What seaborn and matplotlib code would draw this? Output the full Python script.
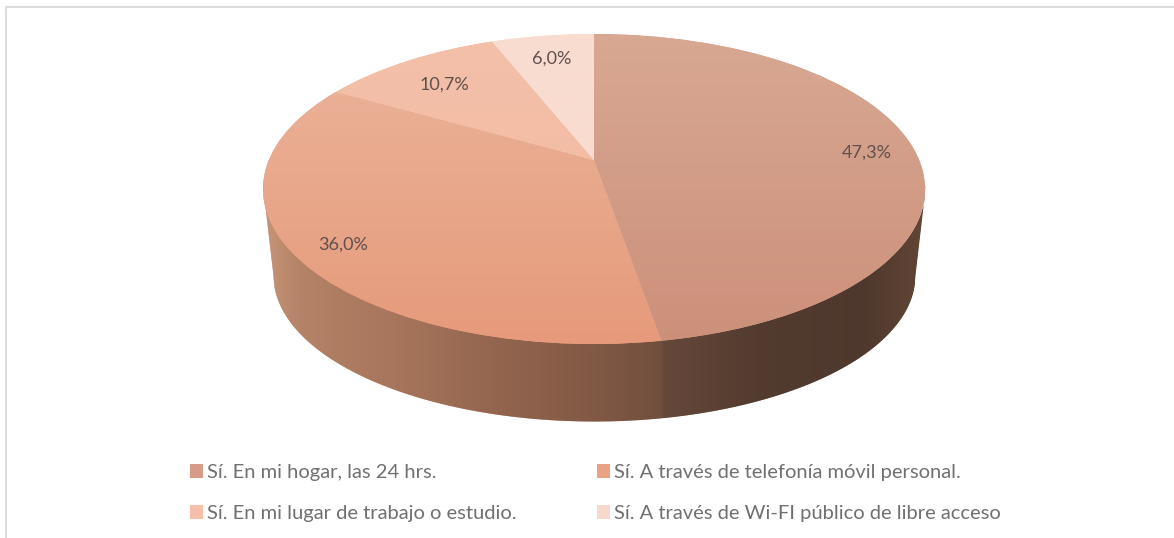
import numpy as np
import seaborn as sns
import matplotlib
matplotlib.use('Agg')
import matplotlib.pyplot as plt
from matplotlib.colors import LinearSegmentedColormap
from matplotlib.transforms import Transform

categories = ['Sí. En mi hogar, las 24 hrs.',
              'Sí. A través de telefonía móvil personal.',
              'Sí. En mi lugar de trabajo o estudio.',
              'Sí. A través de Wi-FI público de libre acceso']
values = [47.3, 36.0, 10.7, 6.0]
value_labels = ['47,3%', '36,0%', '10,7%', '6,0%']

top_colors = ['#d8a893', '#ebb59b', '#f4c0a9', '#f9dcd0']
bottom_colors = ['#cc907a', '#e69a7b', '#f2b8a0', '#f9dcd0']
legend_colors = ['#d79c87', '#e9a284', '#f6bfa9', '#f8d8cc']

# pie geometry in image pixels
cx, cy, rx, ry = 594, 189, 331, 155
depth_cy, depth_rx, depth_ry = 275, 321, 146
tilt = 0.187


# Perspective: keeps the unit circle on itself and moves its centre up
class TiltedPie(Transform):
    input_dims = 2
    output_dims = 2

    def transform_non_affine(self, xy):
        xy = np.asarray(xy, dtype=float)
        d = 1 + tilt * xy[:, 1]
        px = xy[:, 0] * np.sqrt(1 - tilt ** 2) / d
        py = (xy[:, 1] + tilt) / d
        return np.column_stack([cx + rx * px, cy - ry * py])


sns.set_theme(style='white')
plt.rcParams['font.family'] = ['Lato', 'DejaVu Sans']

fig, ax = plt.subplots(figsize=(11.74, 5.38), dpi=100)
ax.set_position([0, 0, 1, 1])

wedges, _ = ax.pie(values, startangle=90, counterclock=False, colors=legend_colors)
tilted = TiltedPie()
for wedge, c1, c2 in zip(wedges, top_colors, bottom_colors):
    wedge.set_transform(tilted + ax.transData)
    wedge.set_zorder(3)
    wedge.set_edgecolor('none')
    cmap = LinearSegmentedColormap.from_list('top', [c1, c2])
    grad = np.linspace(0, 1, 256).reshape(-1, 1)
    im = ax.imshow(grad, extent=(cx - rx, cx + rx, cy + ry, cy - ry), cmap=cmap,
                   aspect='auto', zorder=4)
    im.set_clip_path(wedge)

ax.set_aspect('auto')
ax.set_xlim(0, 1174)
ax.set_ylim(538, 0)
ax.axis('off')

# Side wall, split where the first slice ends
end = np.radians(values[0] / sum(values) * 360)
split_x = tilted.transform_non_affine(np.array([[np.sin(end), np.cos(end)]]))[0, 0]

stops_x = [cx - rx, 300, 400, 500, 600, split_x, split_x + 1, 760, 860, cx + rx]
stops_r = [198, 180, 165, 146, 128, 112, 101, 82, 78, 98]
stops_g = [150, 130, 116, 100, 88, 78, 72, 58, 55, 70]
stops_b = [120, 102, 90, 78, 68, 60, 58, 46, 44, 54]

xs = np.arange(cx - rx, cx + rx + 1.0, 1.0)
for x0, x1 in zip(xs[:-1], xs[1:]):
    seg = np.array([x0, x1, x1 + 0.5])
    dx = np.abs(seg - cx)
    upper = cy + ry * np.sqrt(np.clip(1 - (dx / rx) ** 2, 0, 1))
    lower = np.where(dx < depth_rx,
                     depth_cy + depth_ry * np.sqrt(np.clip(1 - (dx / depth_rx) ** 2, 0, 1)),
                     cy + (depth_cy - cy) * (rx - dx) / (rx - depth_rx))
    col = (np.interp(x0, stops_x, stops_r) / 255,
           np.interp(x0, stops_x, stops_g) / 255,
           np.interp(x0, stops_x, stops_b) / 255)
    ax.fill_between(seg, upper - 1, lower, color=col, linewidth=0, zorder=2)

# Data labels
label_pos = [(867, 153), (343, 245), (444, 85), (552, 59)]
for (lx, ly), txt in zip(label_pos, value_labels):
    ax.text(lx, ly, txt, ha='center', va='center', fontsize=13, color='#5f504c', zorder=6)

# Chart frame, only left and top show in the crop
ax.plot([6, 6, 1174], [538, 7, 7], color='#dcdcdc', lw=1.5, zorder=1)

order = [0, 2, 1, 3]
leg = ax.legend([wedges[i] for i in order], [categories[i] for i in order], ncol=2,
                loc='upper left', bbox_to_anchor=(190 / 1174, 1 - 464 / 538), frameon=False,
                fontsize=14.5, labelcolor='#707070', handlelength=0.65, handleheight=0.65,
                handletextpad=0.2, columnspacing=4.0, labelspacing=1.2, borderaxespad=0,
                borderpad=0)

fig.savefig('out.png', dpi=100)
